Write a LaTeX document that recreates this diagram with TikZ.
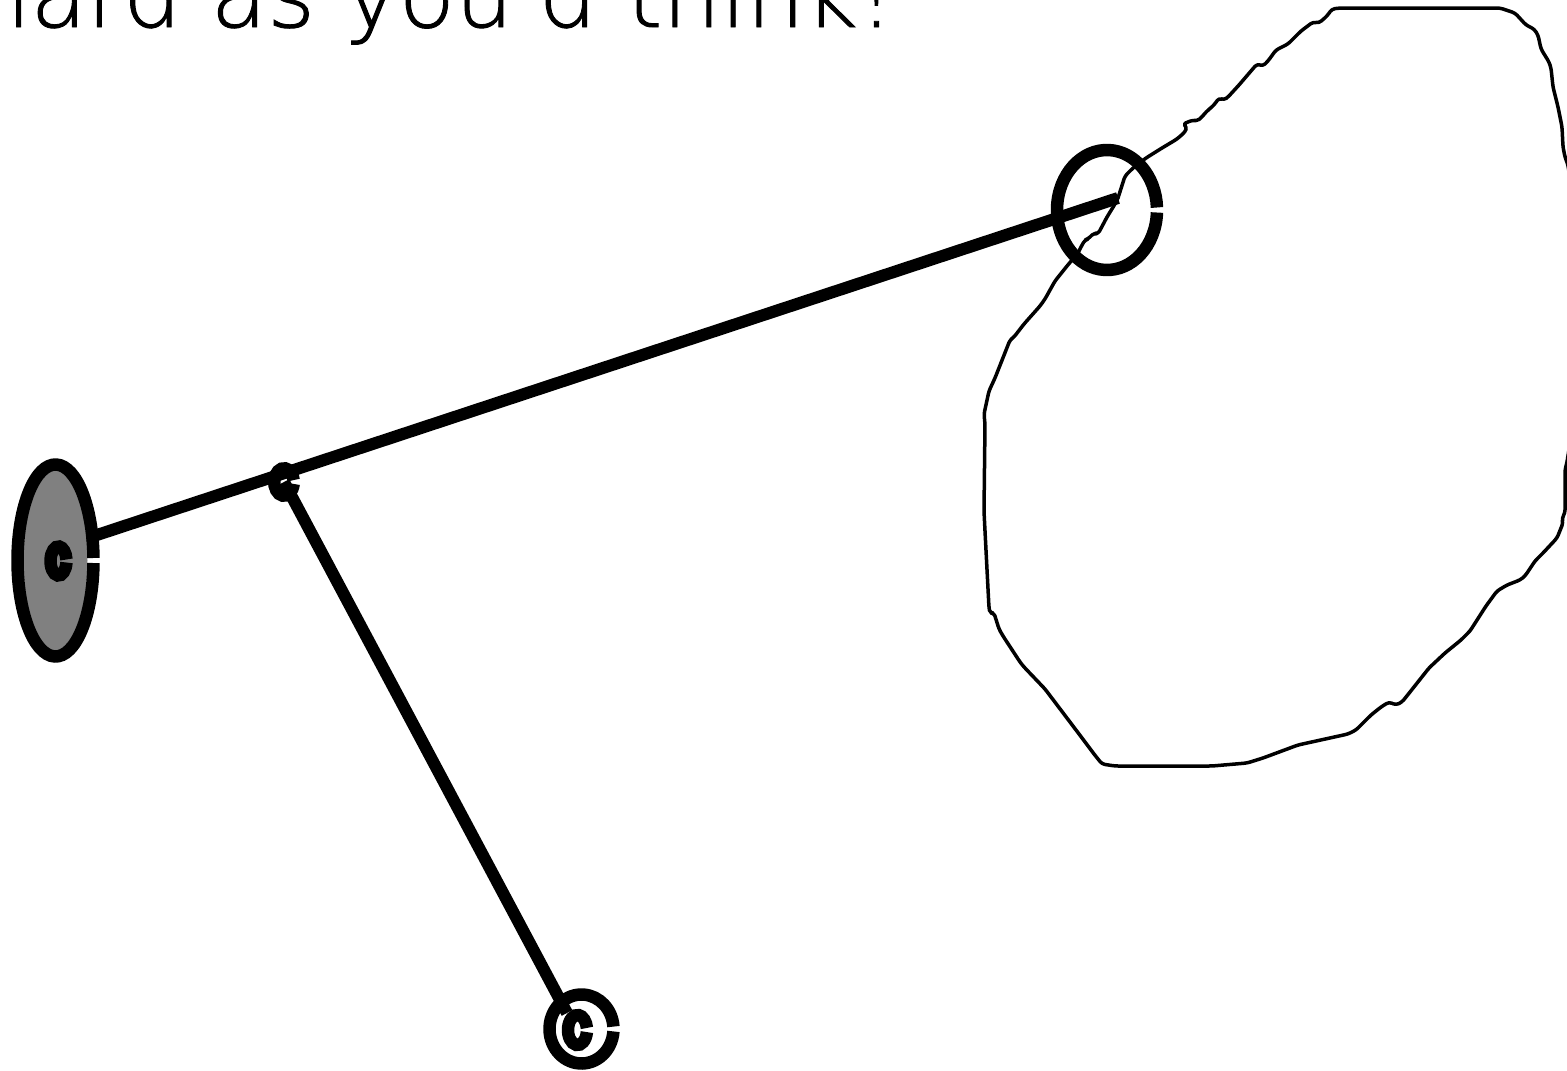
\documentclass[tikz,border=0pt]{standalone}
\usepackage{fontspec}
\usepackage{tikz}
\usetikzlibrary{positioning}
\IfFontExistsTF{DejaVu Sans ExtraLight}
  {\newfontfamily\titlefont[Ligatures=TeXOff,FakeBold=1]{DejaVu Sans ExtraLight}}
  {\IfFontExistsTF{DejaVuSans-ExtraLight.ttf}
    {\newfontfamily\titlefont[Ligatures=TeXOff,FakeBold=1]{DejaVuSans-ExtraLight.ttf}}
    {\newfontfamily\titlefont[Ligatures=TeXOff]{DejaVu Sans}}}
\tikzset{
  ring/.style={line width=12.5pt},
  edge/.style={line width=12pt},
  scribble/.style={line width=3.5pt,rounded corners=3pt,line join=round}
}

\begin{document}
\begin{tikzpicture}[x=1pt,y=-1pt]
\useasboundingbox (0,0) rectangle (1567,1071);
\node[font=\titlefont\fontsize{92}{100}\selectfont,anchor=base west,inner sep=0] (tagline) at (-28,27) {hard as you'd think!};
\coordinate (Ac) at (55.5,560.5);
\coordinate (Aa) at (58.5,561);
\coordinate (Bc) at (284,482);
\coordinate (Cc) at (1107,210);
\coordinate (Dc) at (581.5,1029);
\coordinate (Dd) at (577.5,1030);
\coordinate (Ahub) at (56,548.5);
\coordinate (Chub) at (1118,198);
\coordinate (Dtip) at (567,1013);
\draw[edge] (Ahub) -- (Chub);
\draw[edge] (Bc) -- (Dtip);
\fill[gray] (Ac) ellipse[x radius=32,y radius=90];
\draw[ring] (Ac) ++(1.5:38 and 96) arc[start angle=1.5,end angle=358.5,x radius=38,y radius=96];
\draw[ring] (Aa) ++(6:8 and 14.5) arc[start angle=6,end angle=354,x radius=8,y radius=14.5];
\draw[ring] (Bc) ++(8:9.75 and 13.75) arc[start angle=8,end angle=352,x radius=9.75,y radius=13.75];
\draw[ring] (Cc) ++(2.4:50 and 60) arc[start angle=2.4,end angle=357.6,x radius=50,y radius=60];
\draw[ring] (Dc) ++(4:32 and 34.5) arc[start angle=4,end angle=356,x radius=32,y radius=34.5];
\draw[ring] (Dd) ++(8:9.5 and 15) arc[start angle=8,end angle=352,x radius=9.5,y radius=15];
\draw[scribble] (Chub) -- (1125,176) -- (1133,168) -- (1146,158) -- (1162,148) -- (1177,139) -- (1185,132)
  -- (1187,127) -- (1183,124) -- (1193,120) -- (1197,121) -- (1201,118) -- (1206,112) -- (1214,105)
  -- (1219,98) -- (1224,100) -- (1228,97) -- (1239,85) -- (1257,64) -- (1263,66) -- (1268,61)
  -- (1276,50) -- (1288,44) -- (1301,31) -- (1313,22) -- (1319,23) -- (1327,16) -- (1332,9)
  -- (1340,8) -- (1500,8) -- (1515,13) -- (1526,25) -- (1534,29) -- (1538,35) -- (1541,49)
  -- (1549,62) -- (1551,68) -- (1553,87) -- (1558,107) -- (1562,127) -- (1563,147) -- (1565,157)
  -- (1568,165) -- (1580,250) -- (1580,380) -- (1567,462) -- (1565,470) -- (1565,513) -- (1562,518)
  -- (1563,523) -- (1557,538) -- (1543,553) -- (1535,561) -- (1525,576) -- (1520,580) -- (1507,585)
  -- (1497,591) -- (1486,606) -- (1470,631) -- (1461,640) -- (1445,653) -- (1429,668) -- (1410,692)
  -- (1402,702) -- (1396,705) -- (1389,702) -- (1381,707) -- (1371,715) -- (1356,730) -- (1348,734)
  -- (1298,745) -- (1263,758) -- (1247,763) -- (1212,766) -- (1173,766) -- (1115,766) -- (1102,764)
  -- (1094,754) -- (1076,730) -- (1045,689) -- (1024,667) -- (1020,662) -- (1003,636) -- (999,629)
  -- (994,613) -- (990,613) -- (989,608) -- (985,531) -- (984,511) -- (985,424) -- (984,414)
  -- (989,391) -- (995,378) -- (1010,340) -- (1014,337) -- (1024,324) -- (1040,306) -- (1045,299)
  -- (1055,281) -- (1067,266) -- (1078,253) -- (1082,245) -- (1085,240) -- (1088,239) -- (1094,233)
  -- (1098,234) -- (1107,217) -- (1115,204) -- (Chub);
\end{tikzpicture}
\end{document}
